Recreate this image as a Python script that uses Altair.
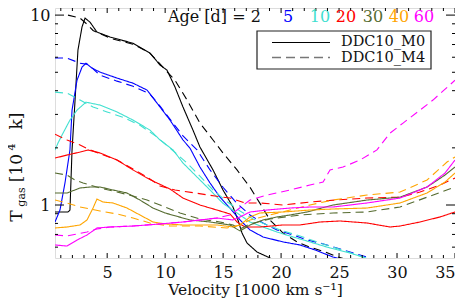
import altair as alt
import pandas as pd

# ---------------- data ----------------
ages = ["2", "5", "10", "20", "30", "40", "60"]
age_colors = ["#000000", "#0000ff", "#40e0d0", "#ff0000", "#556b2f", "#ffa500", "#ff00ff"]
models = ["DDC10_M0", "DDC10_M4"]

x_major = [5, 10, 15, 20, 25, 30, 35]
x_minor = [v for v in range(1, 35) if v % 5 != 0]
y_major = [1, 10]
y_minor = [0.6, 0.7, 0.8, 0.9, 2, 3, 4, 5, 6, 7, 8, 9]

a2_m0_x = [0.5, 1.62, 1.79, 1.88, 1.97, 2.23, 2.48, 2.83, 3.09, 3.52, 4.12, 5.24, 7.23, 8.69, 9.56, 10.16, 10.85, 11.54, 12.4, 13.0, 14.13, 14.99, 15.85, 16.28, 16.63, 17.06, 17.92, 18.87, 19.2]
a2_m0_y = [0.919, 0.919, 0.94, 1.354, 1.95, 3.57, 6.55, 8.66, 9.64, 9.18, 8.14, 7.67, 7.11, 6.31, 5.46, 5.13, 4.18, 3.28, 2.48, 2.02, 1.53, 1.2, 0.976, 0.834, 0.712, 0.631, 0.566, 0.532, 0.52]
a2_m4_x = [1.62, 2.66, 3.35, 3.78, 5.24, 7.23, 8.69, 9.81, 10.85, 11.89, 13.0, 14.13, 14.99, 16.2, 17.32, 18.18, 19.04, 20.17, 21.37, 22.49, 23.79, 24.91, 25.5]
a2_m4_y = [10.0, 9.64, 8.86, 8.3, 7.56, 7.03, 6.31, 5.32, 4.54, 3.57, 2.7, 2.2, 1.88, 1.53, 1.24, 1.02, 0.834, 0.712, 0.639, 0.6, 0.566, 0.532, 0.52]

a5_m0_x = [0.5, 0.93, 1.36, 1.62, 1.79, 1.97, 2.4, 2.83, 3.17, 3.69, 4.38, 5.85, 7.23, 8.44, 9.3, 10.42, 11.54, 12.14, 13.0, 13.87, 14.73, 15.59, 16.46, 17.32, 18.44, 20.17, 21.63, 22.93, 24.48, 25.08]
a5_m0_y = [0.814, 0.941, 1.306, 1.664, 1.95, 3.16, 4.54, 5.32, 5.58, 5.26, 5.01, 4.66, 4.38, 4.03, 3.44, 2.8, 2.2, 1.995, 1.585, 1.306, 1.1, 0.964, 0.834, 0.739, 0.679, 0.639, 0.616, 0.58, 0.532, 0.52]
a5_m4_x = [0.5, 1.54, 2.66, 3.35, 4.38, 5.85, 7.23, 8.69, 9.56, 10.68, 11.54, 12.75, 13.87, 14.99, 16.2, 17.32, 18.44, 19.65, 21.03, 22.24, 23.36, 25.34, 27.41, 27.85]
a5_m4_y = [5.94, 5.94, 5.58, 5.5, 4.83, 4.49, 4.22, 3.84, 3.32, 2.7, 2.31, 1.95, 1.53, 1.24, 1.02, 0.886, 0.804, 0.739, 0.695, 0.654, 0.631, 0.58, 0.532, 0.52]

a10_m0_x = [0.5, 0.76, 1.19, 1.79, 2.4, 3.17, 4.38, 5.85, 7.23, 8.69, 9.56, 10.68, 11.54, 12.75, 13.87, 14.99, 16.2, 17.32, 18.44, 19.65, 21.03, 22.24, 24.22, 25.94, 27.07, 27.5]
a10_m0_y = [1.95, 2.12, 2.39, 2.8, 3.16, 3.48, 3.36, 3.09, 2.8, 2.48, 2.2, 1.95, 1.664, 1.404, 1.2, 1.02, 0.908, 0.814, 0.766, 0.721, 0.679, 0.646, 0.594, 0.559, 0.532, 0.52]
a10_m4_x = [0.5, 1.54, 2.66, 3.78, 4.99, 6.36, 7.83, 9.3, 10.42, 11.89, 13.0, 14.13, 15.34, 16.46, 17.58, 18.79, 20.17, 21.63, 23.36, 25.51, 27.3]
a10_m4_y = [3.93, 3.88, 3.57, 3.28, 3.09, 2.9, 2.63, 2.28, 1.995, 1.664, 1.42, 1.2, 1.04, 0.93, 0.844, 0.785, 0.73, 0.687, 0.631, 0.573, 0.526]

a20_m0_x = [0.5, 1.54, 2.66, 3.35, 4.38, 5.85, 7.23, 8.44, 9.3, 10.42, 11.54, 13.0, 14.47, 15.59, 16.2, 16.89, 18.18, 20.17, 21.63, 23.36, 25.08, 27.41, 29.39, 30.26, 31.98, 33.71, 35.0]
a20_m0_y = [1.767, 1.833, 1.9, 1.95, 1.88, 1.725, 1.53, 1.387, 1.306, 1.214, 1.088, 1.0, 0.941, 0.897, 0.814, 0.766, 0.766, 0.785, 0.785, 0.814, 0.824, 0.804, 0.766, 0.775, 0.814, 0.865, 0.919]
a20_m4_x = [0.5, 1.54, 2.66, 3.35, 4.38, 5.85, 7.23, 8.44, 9.56, 10.85, 12.57, 14.3, 15.59, 16.89, 18.18, 20.17, 22.49, 24.65, 27.41, 30.26, 31.98, 33.71, 35.0]
a20_m4_y = [2.36, 2.2, 2.07, 1.97, 1.86, 1.725, 1.547, 1.404, 1.259, 1.2, 1.157, 1.115, 1.088, 1.025, 1.025, 1.0, 1.037, 1.062, 1.088, 1.1, 1.17, 1.274, 1.387]

a30_m0_x = [0.5, 1.54, 2.66, 3.52, 4.38, 5.5, 6.71, 7.83, 8.95, 9.99, 12.14, 13.87, 15.59, 16.46, 17.32, 18.44, 19.65, 20.77, 22.24, 24.48, 27.41, 30.26, 32.59, 34.14, 35.0]
a30_m0_y = [1.157, 1.157, 1.229, 1.244, 1.244, 1.2, 1.157, 1.062, 0.964, 0.908, 0.834, 0.814, 0.785, 0.73, 0.785, 0.834, 0.865, 0.886, 0.919, 1.0, 1.062, 1.1, 1.244, 1.438, 1.585]
a30_m4_x = [0.5, 1.54, 2.23, 2.92, 4.38, 5.85, 7.23, 8.44, 9.56, 11.28, 13.0, 14.73, 15.85, 16.46, 17.32, 19.04, 21.63, 24.48, 27.41, 30.26, 32.59, 35.0]
a30_m4_y = [1.474, 1.438, 1.354, 1.306, 1.229, 1.17, 1.115, 1.062, 1.0, 0.908, 0.844, 0.814, 0.785, 0.748, 0.795, 0.844, 0.886, 0.908, 0.919, 0.976, 1.1, 1.244]

a40_m0_x = [0.5, 1.54, 2.66, 3.26, 3.78, 4.12, 4.64, 5.5, 6.71, 7.83, 8.95, 9.99, 11.54, 14.47, 15.85, 16.46, 17.32, 18.18, 20.17, 22.49, 24.48, 27.41, 30.26, 32.59, 34.14, 35.0]
a40_m0_y = [0.757, 0.766, 0.785, 0.834, 0.964, 1.075, 1.037, 1.025, 0.964, 0.886, 0.814, 0.795, 0.785, 0.785, 0.766, 0.785, 0.865, 0.908, 0.919, 0.941, 0.953, 0.964, 1.025, 1.157, 1.321, 1.474]
a40_m4_x = [0.5, 1.54, 2.66, 4.38, 5.85, 7.23, 8.69, 10.42, 13.0, 15.34, 16.46, 17.32, 19.04, 20.77, 22.49, 24.48, 27.41, 30.26, 32.59, 34.31, 35.0]
a40_m4_y = [1.062, 1.025, 0.976, 0.93, 0.897, 0.854, 0.804, 0.775, 0.775, 0.757, 0.785, 0.834, 0.886, 0.941, 1.0, 1.062, 1.129, 1.17, 1.354, 1.684, 1.79]

a60_m0_x = [0.5, 1.54, 2.4, 3.26, 4.12, 5.24, 7.23, 9.56, 11.54, 14.47, 15.85, 16.46, 17.32, 18.79, 20.77, 22.49, 24.48, 27.41, 30.26, 32.59, 34.14, 35.0]
a60_m0_y = [0.616, 0.608, 0.654, 0.695, 0.757, 0.766, 0.775, 0.795, 0.814, 0.854, 0.834, 0.865, 0.919, 0.941, 0.964, 0.976, 0.976, 1.025, 1.088, 1.244, 1.474, 1.725]
a60_m4_x = [0.5, 1.54, 2.4, 3.26, 4.12, 5.24, 7.23, 9.56, 11.54, 14.47, 15.59, 16.2, 17.32, 18.79, 20.77, 22.49, 23.62, 24.22, 25.34, 26.81, 28.27, 29.39, 30.52, 31.98, 33.1, 35.0]
a60_m4_y = [0.695, 0.687, 0.704, 0.721, 0.748, 0.766, 0.775, 0.795, 0.814, 0.854, 0.886, 0.941, 1.062, 1.129, 1.2, 1.274, 1.32, 1.53, 1.585, 1.725, 1.95, 2.39, 2.7, 3.16, 3.57, 4.54]

series = [
    ("2", "DDC10_M0", a2_m0_x, a2_m0_y), ("2", "DDC10_M4", a2_m4_x, a2_m4_y),
    ("5", "DDC10_M0", a5_m0_x, a5_m0_y), ("5", "DDC10_M4", a5_m4_x, a5_m4_y),
    ("10", "DDC10_M0", a10_m0_x, a10_m0_y), ("10", "DDC10_M4", a10_m4_x, a10_m4_y),
    ("20", "DDC10_M0", a20_m0_x, a20_m0_y), ("20", "DDC10_M4", a20_m4_x, a20_m4_y),
    ("30", "DDC10_M0", a30_m0_x, a30_m0_y), ("30", "DDC10_M4", a30_m4_x, a30_m4_y),
    ("40", "DDC10_M0", a40_m0_x, a40_m0_y), ("40", "DDC10_M4", a40_m4_x, a40_m4_y),
    ("60", "DDC10_M0", a60_m0_x, a60_m0_y), ("60", "DDC10_M4", a60_m4_x, a60_m4_y),
]

rows = []
for age, model, xs_, ys_ in series:
    for i, (xv, yv) in enumerate(zip(xs_, ys_)):
        rows.append({"age": age, "model": model, "series": age + model, "i": i, "x": xv, "y": yv})
df = pd.DataFrame(rows)

# ---------------- chart ----------------
FONT = "DejaVu Serif"
W, H = 400, 250
xs = alt.Scale(domain=[0.5, 35], nice=False, zero=False)
ys = alt.Scale(type="log", domain=[0.526, 10.9], nice=False)

x_axis = alt.Axis(
    values=x_major, ticks=False, domain=False, grid=False,
    labelFont=FONT, labelFontSize=16, labelColor="#111", labelPadding=6,
    title="Velocity [1000 km s\u207b\u00b9]", titleFont=FONT, titleFontSize=15.5,
    titleFontWeight="normal", titleColor="#111", titleY=36, titleBaseline="alphabetic")
y_axis = alt.Axis(
    values=y_major, format="~g", ticks=False, domain=False, grid=False,
    labelFont=FONT, labelFontSize=16, labelColor="#111", labelPadding=5, title=None)

lines = alt.Chart(df).mark_line(strokeWidth=1.1, clip=True).encode(
    x=alt.X("x:Q", scale=xs, axis=x_axis),
    y=alt.Y("y:Q", scale=ys, axis=y_axis),
    color=alt.Color("age:N", scale=alt.Scale(domain=ages, range=age_colors), legend=None),
    strokeDash=alt.StrokeDash("model:N", scale=alt.Scale(domain=models, range=[[1, 0], [8, 5]]), legend=None),
    detail="series:N",
    order="i:Q",
)

def xticks(vals, length):
    d = pd.DataFrame({"v": vals})
    b = alt.Chart(d).mark_rule(color="black", strokeWidth=1).encode(
        x=alt.X("v:Q", scale=xs, axis=x_axis), y=alt.value(H), y2=alt.value(H - length))
    t = alt.Chart(d).mark_rule(color="black", strokeWidth=1).encode(
        x=alt.X("v:Q", scale=xs, axis=x_axis), y=alt.value(0), y2=alt.value(length))
    return [b, t]

def yticks(vals, length):
    d = pd.DataFrame({"v": vals})
    l = alt.Chart(d).mark_rule(color="black", strokeWidth=1).encode(
        y=alt.Y("v:Q", scale=ys, axis=y_axis), x=alt.value(0), x2=alt.value(length))
    r = alt.Chart(d).mark_rule(color="black", strokeWidth=1).encode(
        y=alt.Y("v:Q", scale=ys, axis=y_axis), x=alt.value(W), x2=alt.value(W - length))
    return [l, r]

dummy = pd.DataFrame({"a": [0]})

def txt(text, x, y, size=16, color="#111", align="center", angle=0):
    return alt.Chart(dummy).mark_text(text=text, font=FONT, fontSize=size, color=color,
                                      align=align, baseline="middle", angle=angle).encode(
        x=alt.value(x), y=alt.value(y))

# Age header
header = [txt("Age [d] = 2", 113, 9, align="left")]
for lab, col, px in zip(ages[1:], age_colors[1:], [233, 265, 291, 318, 344, 369]):
    header.append(txt(lab, px, 9, color=col))

# legend box
box = alt.Chart(dummy).mark_rect(fill="white", stroke="#222", strokeWidth=1.2).encode(
    x=alt.value(202), x2=alt.value(376), y=alt.value(23), y2=alt.value(61))
leg_solid = alt.Chart(dummy).mark_rule(color="black", strokeWidth=1.1).encode(
    x=alt.value(217), x2=alt.value(275), y=alt.value(34.5))
leg_dash = alt.Chart(dummy).mark_rule(color="#777", strokeWidth=1.3, strokeDash=[9, 5]).encode(
    x=alt.value(217), x2=alt.value(275), y=alt.value(49.5))
leg_t1 = txt("DDC10_M0", 286, 34, size=14.5, align="left")
leg_t2 = txt("DDC10_M4", 286, 49.5, size=14.5, align="left")

# y title with sub/superscripts
ytitle = [
    txt("T", -38, 208, size=17, angle=270),
    txt("gas", -33, 189, size=11, angle=270),
    txt("[10", -38, 160, size=17, angle=270),
    txt("4", -43, 139, size=11, angle=270),
    txt("k]", -38, 113, size=17, angle=270),
]

layers = [lines] + xticks(x_major, 5) + xticks(x_minor, 3) + yticks(y_major, 9) + yticks(y_minor, 3) \
    + header + [box, leg_solid, leg_dash, leg_t1, leg_t2] + ytitle

chart = alt.layer(*layers).properties(
    width=W, height=H,
    padding={"left": 47, "top": 0, "right": 0, "bottom": 40},
    autosize=alt.AutoSizeParams(type="none"),
).configure_view(stroke="black", strokeWidth=1.2).configure(background="white")

chart.save("out.html", embed_options={"renderer": "svg", "actions": False})
